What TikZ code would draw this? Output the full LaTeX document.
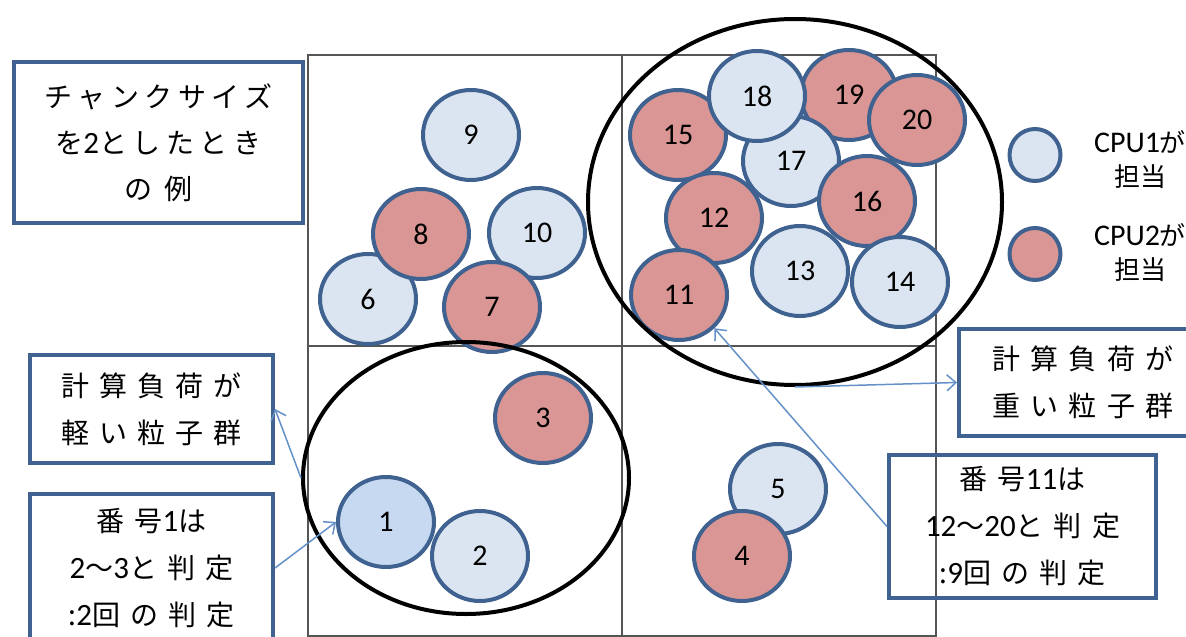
\documentclass[tikz,border=0pt]{standalone}
\usepackage{fontspec}
\setmainfont{Noto Sans CJK JP}
\newfontfamily\notefont[LetterSpace=20]{Noto Sans CJK JP}
\newfontfamily\widefont[LetterSpace=36]{Noto Sans CJK JP}
\newfontfamily\numfont{Carlito}
\newcommand\digits[1]{{\numfont\fontsize{31}{46}\selectfont #1}}
\usetikzlibrary{shapes.geometric,arrows.meta}
\definecolor{cpublue}{RGB}{219,229,241}
\definecolor{cpured}{RGB}{217,150,148}
\definecolor{selblue}{RGB}{198,217,241}
\definecolor{edgeblue}{RGB}{63,98,144}
\definecolor{arrowblue}{RGB}{100,145,200}
\definecolor{gridgray}{RGB}{85,85,85}
\tikzset{
  particle/.style={ellipse, draw=edgeblue, line width=4pt, minimum width=96pt,
    minimum height=90pt, inner sep=0pt, font={\numfont\fontsize{30}{30}\selectfont}},
  cpuone/.style={particle, fill=cpublue},
  cputwo/.style={particle, fill=cpured},
  group/.style={ellipse, draw=black, line width=4pt, inner sep=0pt},
  legendtext/.style={align=center, font={\fontsize{26}{34}\selectfont}},
  note/.style={draw=edgeblue, line width=4pt, align=center, inner sep=0pt,
    font={\notefont\fontsize{28}{46}\selectfont}},
  widenote/.style={note, font={\widefont\fontsize{28}{47}\selectfont}},
  pointer/.style={draw=arrowblue, line width=1.5pt,
    -{Straight Barb[length=9pt,width=16pt]}}
}
\begin{document}
\begin{tikzpicture}[x=1pt,y=-1pt]
    \useasboundingbox (0,0) rectangle (1186,637);
    \clip (0,0) rectangle (1186,637);
    % 格子
    \draw[gridgray, line width=1.5pt] (308,55) rectangle (936,636);
    \draw[gridgray, line width=1.5pt] (622,55) -- (622,637);
    \draw[gridgray, line width=1.5pt] (308,346) -- (936,346);

    % 粒子
    \node[particle, fill=selblue] (p1) at (386,522) {1};
    \node[cpuone] (p2) at (480,556) {2};
    \node[cputwo] (p3) at (543,418) {3};
    \node[cpuone] (p5) at (778,489) {5};
    \node[cputwo] (p4) at (742,556) {4};
    \node[cpuone] (p6) at (368,299) {6};
    \node[cputwo] (p8) at (421,234) {8};
    \node[cpuone] (p9) at (471,135) {9};
    \node[cpuone] (p10) at (537,233) {10};
    \node[cputwo] (p7) at (492,307) {7};
    \node[cputwo] (p15) at (678,135) {15};
    \node[cputwo] (p19) at (849,95) {19};
    \node[cputwo] (p20) at (917,120) {20};
    \node[cpuone] (p17) at (791,161) {17};
    \node[cpuone] (p18) at (757,96) {18};
    \node[cputwo] (p12) at (714,218) {12};
    \node[cputwo] (p11) at (679,295) {11};
    \node[cputwo] (p16) at (867,201) {16};
    \node[cpuone] (p13) at (800,271) {13};
    \node[cpuone] (p14) at (900,282) {14};

    % 粒子群
    \node[group, minimum width=326pt, minimum height=272pt] (light) at (466,478) {};
    \node[group, minimum width=414pt, minimum height=366pt] (heavy) at (795,202) {};

    % 凡例
    \node[cpuone, minimum width=51pt, minimum height=52pt] (leg1) at (1035,155) {};
    \node[cputwo, minimum width=51pt, minimum height=52pt] (leg2) at (1035,254) {};
    \node[legendtext] (legtxt1) at (1140,160) {{\numfont\fontsize{30}{34}\selectfont CPU1}が\\担当};
    \node[legendtext] (legtxt2) at (1140,253) {{\numfont\fontsize{30}{34}\selectfont CPU2}が\\担当};

    % 説明
    \node[note, minimum width=289pt, minimum height=161pt] (chunk) at (158.5,142.5)
        {チャンクサイズ\\を\digits{2}としたとき\\の 例};
    \node[widenote, minimum width=243pt, minimum height=108pt] (lightnote) at (151.5,409)
        {計算負荷が\\軽い粒子群};
    \node[widenote, minimum width=243pt, minimum height=149pt] (calc1) at (151.5,568)
        {番号\digits{1}は\\\digits{2}～\digits{3}と判定\\:\digits{2}回の判定};
    \node[widenote, minimum width=248pt, minimum height=107pt] (heavynote) at (1083,382.5)
        {計算負荷が\\重い粒子群};
    \node[widenote, minimum width=267pt, minimum height=143pt] (calc11) at (1022.5,526.5)
        {番号\digits{11}は\\\digits{12}～\digits{20}と判定\\:\digits{9}回の判定};

    % 矢印
    \draw[pointer] (light.west) -- (lightnote.east);
    \draw[pointer] (calc1.east) -- (p1.west);
    \draw[pointer] (heavy.south) -- (heavynote.west);
    \draw[pointer] (calc11.west) -- (p11.south east);
\end{tikzpicture}
\end{document}
